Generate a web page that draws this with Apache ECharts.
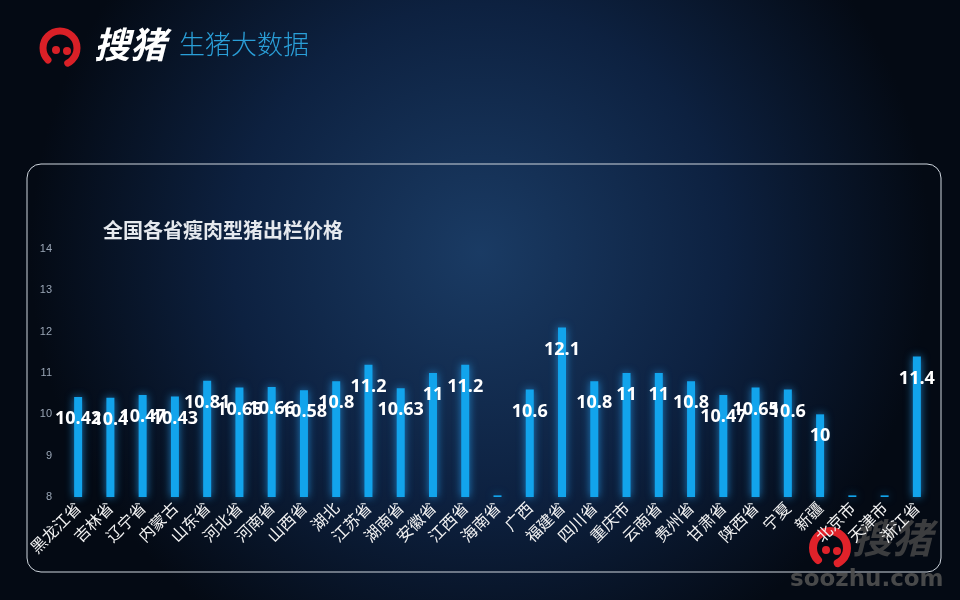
<!DOCTYPE html>
<html>
<head>
<meta charset="utf-8">
<title>全国各省瘦肉型猪出栏价格</title>
<script src="https://cdn.jsdelivr.net/npm/echarts@6/dist/echarts.min.js"></script>
<style>
html, body { margin: 0; padding: 0; background: #050b16; }
#main { width: 960px; height: 600px; }
</style>
</head>
<body>
<div id="main"></div>
<script>
var provinces = ['黑龙江省', '吉林省', '辽宁省', '内蒙古', '山东省', '河北省', '河南省', '山西省', '湖北',
    '江苏省', '湖南省', '安徽省', '江西省', '海南省', '广西', '福建省', '四川省', '重庆市', '云南省',
    '贵州省', '甘肃省', '陕西省', '宁夏', '新疆', '北京市', '天津市', '浙江省'];
// 海南、北京、天津 only show a tiny stub at the baseline, no label
var prices = [10.42, 10.4, 10.47, 10.43, 10.81, 10.65, 10.66, 10.58, 10.8,
    11.2, 10.63, 11, 11.2, 8.04, 10.6, 12.1, 10.8, 11, 11,
    10.8, 10.47, 10.65, 10.6, 10, 8.04, 8.04, 11.4];
var noLabel = ['海南省', '北京市', '天津市'];
var yTicks = [8, 9, 10, 11, 12, 13, 14];

var chart = echarts.init(document.getElementById('main'));

var barData = prices.map(function (v, i) {
    var item = {value: v};
    if (noLabel.indexOf(provinces[i]) >= 0) {
        item.label = {show: false};
    }
    return item;
});

var option = {
    backgroundColor: {
        type: 'radial', x: 0.5, y: 0.42, r: 0.75,
        colorStops: [
            {offset: 0, color: '#1a3b64'},
            {offset: 0.55, color: '#0d2140'},
            {offset: 1, color: '#040a14'}
        ]
    },
    title: {
        text: '全国各省瘦肉型猪出栏价格',
        left: 98,
        top: 215,
        textStyle: {
            color: '#e6e9ee',
            fontSize: 20,
            fontWeight: 'bold',
            fontFamily: 'Noto Sans CJK SC'
        }
    },
    grid: {left: 62, right: 27, top: 249, bottom: 103},
    xAxis: {
        type: 'category',
        data: provinces,
        axisLine: {show: false},
        axisTick: {show: false},
        axisLabel: {
            interval: 0,
            rotate: 45,
            margin: 8,
            color: '#f2f2f2',
            fontSize: 16,
            fontFamily: 'Noto Sans CJK SC'
        }
    },
    yAxis: {
        type: 'value',
        min: yTicks[0],
        max: yTicks[yTicks.length - 1],
        interval: 1,
        axisLine: {show: false},
        axisTick: {show: false},
        splitLine: {show: false},
        axisLabel: {
            color: '#9aa6b6',
            fontSize: 11,
            margin: 10
        }
    },
    series: [{
        type: 'bar',
        data: barData,
        barWidth: 8,
        itemStyle: {
            color: '#12a4ec',
            shadowBlur: 8,
            shadowColor: 'rgba(40,170,255,0.7)'
        },
        label: {
            show: true,
            position: 'insideTop',
            distance: 13,
            color: '#ffffff',
            fontSize: 18,
            fontWeight: 'bold',
            fontFamily: 'Open Sans'
        }
    }],
    graphic: [
        // panel frame
        {
            type: 'rect',
            shape: {x: 27, y: 164, width: 914, height: 408, r: 14},
            style: {fill: 'none', stroke: '#cfd6de', lineWidth: 1},
            silent: true
        },
        // logo top-left
        {
            type: 'arc',
            shape: {cx: 60, cy: 48, r: 17, startAngle: Math.PI * 0.75, endAngle: Math.PI * 2.35},
            style: {fill: 'none', stroke: '#d92027', lineWidth: 7, lineCap: 'round'}
        },
        {
            type: 'circle',
            shape: {cx: 56, cy: 50, r: 4},
            style: {fill: '#d92027'}
        },
        {
            type: 'circle',
            shape: {cx: 67, cy: 51, r: 4},
            style: {fill: '#d92027'}
        },
        {
            type: 'text',
            left: 94, top: 26,
            style: {
                text: '搜猪', fill: '#ffffff',
                font: 'italic bold 36px "Noto Sans CJK SC"'
            }
        },
        {
            type: 'text',
            left: 179, top: 31,
            style: {
                text: '生猪大数据', fill: '#2a9fd8',
                font: '300 26px "Noto Sans CJK SC"'
            }
        },
        // watermark bottom-right
        {
            type: 'arc',
            shape: {cx: 830, cy: 548, r: 17, startAngle: Math.PI * 0.75, endAngle: Math.PI * 2.35},
            style: {fill: 'none', stroke: '#e0222a', lineWidth: 8, lineCap: 'round'}
        },
        {
            type: 'circle',
            shape: {cx: 826, cy: 550, r: 4},
            style: {fill: '#e0222a'}
        },
        {
            type: 'circle',
            shape: {cx: 837, cy: 551, r: 4},
            style: {fill: '#e0222a'}
        },
        {
            type: 'text',
            left: 852, top: 518,
            style: {
                text: '搜猪', fill: 'rgba(70,70,70,0.85)',
                font: 'italic bold 40px "Noto Sans CJK SC"'
            }
        },
        {
            type: 'text',
            left: 790, top: 569,
            style: {
                text: 'soozhu.com', fill: 'rgba(80,80,80,0.9)',
                font: 'bold 23px "DejaVu Sans"'
            }
        }
    ]
};

chart.setOption(option);
window.addEventListener('resize', function () {
    chart.resize();
});
</script>
</body>
</html>
